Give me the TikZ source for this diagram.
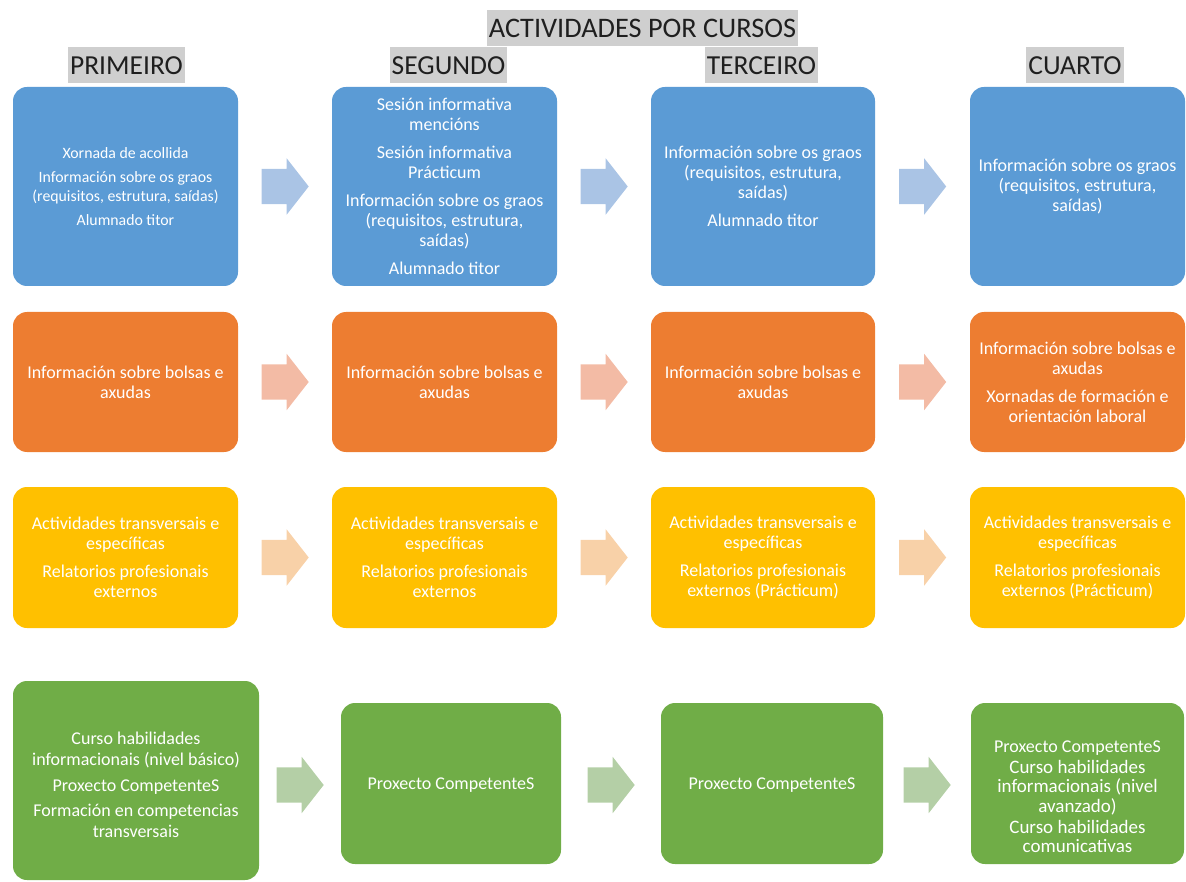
\documentclass[tikz,border=0pt]{standalone}
\usepackage{fontspec}
\setmainfont{Carlito}
\usetikzlibrary{shapes.arrows,calc}
\definecolor{boxblue}{HTML}{5B9BD5}
\definecolor{boxorange}{HTML}{ED7D31}
\definecolor{boxyellow}{HTML}{FFC000}
\definecolor{boxgreen}{HTML}{70AD47}
\definecolor{arrblue}{HTML}{AAC4E5}
\definecolor{arrorange}{HTML}{F3BBA5}
\definecolor{arryellow}{HTML}{F8D1A8}
\definecolor{arrgreen}{HTML}{B4CFA6}
\definecolor{headgray}{HTML}{CFCFCF}
\begin{document}
\begin{tikzpicture}[x=1pt, y=-1pt,
    box/.style={rounded corners=14pt, text=white, align=center, inner sep=0pt, font=\fontsize{18}{20}\selectfont},
    head/.style={fill=headgray, text=black!88, inner xsep=2pt, inner ysep=0pt, minimum height=36pt, font=\fontsize{27.5}{30}\selectfont},
    arr/.style={single arrow, anchor=tail, inner sep=0pt, inner ysep=17.5pt, minimum height=47pt, minimum width=56pt, single arrow head extend=10.5pt, single arrow tip angle=104}]
      \useasboundingbox (0,0) rectangle (1186,882);

      % cabeceiras
      \node[head, font=\fontsize{28.3}{30}\selectfont] (titulo) at (642.5,28) {ACTIVIDADES POR CURSOS};
      \node[head] (h1) at (126.5,65.5) {PRIMEIRO};
      \node[head] (h2) at (448.5,65.5) {SEGUNDO};
      \node[head] (h3) at (761.5,65.5) {TERCEIRO};
      \node[head] (h4) at (1075,65.5) {CUARTO};

      % informacion
      \node[box, fill=boxblue, minimum width=225pt, minimum height=199pt, font=\fontsize{15.8}{19}\selectfont] (b1) at (125.5,186.5)
        {Xornada de acollida\\[5pt]Información sobre os graos\\(requisitos, estrutura, saídas)\\[5pt]Alumnado titor};
      \node[box, fill=boxblue, minimum width=225pt, minimum height=199pt] (b2) at (444.5,186.5)
        {Sesión informativa\\mencións\\[8pt]Sesión informativa\\Prácticum\\[8pt]Información sobre os graos\\(requisitos, estrutura,\\saídas)\\[8pt]Alumnado titor};
      \node[box, fill=boxblue, minimum width=224pt, minimum height=199pt] (b3) at (763,186.5)
        {Información sobre os graos\\(requisitos, estrutura,\\saídas)\\[8pt]Alumnado titor};
      \node[box, fill=boxblue, minimum width=215pt, minimum height=199pt] (b4) at (1077.5,186.5)
        {Información sobre os graos\\(requisitos, estrutura,\\saídas)};

      % bolsas
      \node[box, fill=boxorange, minimum width=225pt, minimum height=140pt] (o1) at (125.5,382)
        {Información sobre bolsas e\\axudas};
      \node[box, fill=boxorange, minimum width=225pt, minimum height=140pt] (o2) at (444.5,382)
        {Información sobre bolsas e\\axudas};
      \node[box, fill=boxorange, minimum width=224pt, minimum height=140pt] (o3) at (763,382)
        {Información sobre bolsas e\\axudas};
      \node[box, fill=boxorange, minimum width=215pt, minimum height=140pt] (o4) at (1077.5,382)
        {Información sobre bolsas e\\axudas\\[8pt]Xornadas de formación e\\orientación laboral};

      % actividades
      \node[box, fill=boxyellow, minimum width=225pt, minimum height=141pt] (y1) at (125.5,557.5)
        {Actividades transversais e\\específicas\\[8pt]Relatorios profesionais\\externos};
      \node[box, fill=boxyellow, minimum width=225pt, minimum height=141pt] (y2) at (444.5,557.5)
        {Actividades transversais e\\específicas\\[8pt]Relatorios profesionais\\externos};
      \node[box, fill=boxyellow, minimum width=224pt, minimum height=141pt] (y3) at (763,557.5)
        {Actividades transversais e\\específicas\\[8pt]Relatorios profesionais\\externos (Prácticum)};
      \node[box, fill=boxyellow, minimum width=215pt, minimum height=141pt] (y4) at (1077.5,557.5)
        {Actividades transversais e\\específicas\\[8pt]Relatorios profesionais\\externos (Prácticum)};

      % competencias
      \node[box, fill=boxgreen, minimum width=246pt, minimum height=199pt, font=\fontsize{18}{21}\selectfont] (g1) at (136,780.5)
        {\rule{0pt}{21.6pt}Curso habilidades\\informacionais (nivel básico)\\[4.5pt]Proxecto CompetenteS\\[4.5pt]Formación en competencias\\transversais};
      \node[box, fill=boxgreen, minimum width=220pt, minimum height=161pt] (g2) at (451,783.5)
        {\rule{0pt}{15pt}Proxecto CompetenteS};
      \node[box, fill=boxgreen, minimum width=222pt, minimum height=161pt] (g3) at (772,783.5)
        {\rule{0pt}{15pt}Proxecto CompetenteS};
      \node[box, fill=boxgreen, minimum width=213pt, minimum height=161pt, font=\fontsize{18}{19.5}\selectfont] (g4) at (1077.5,783.5)
        {\rule{0pt}{38pt}Proxecto CompetenteS\\[1.5pt]{\fontsize{19}{19.5}\selectfont Curso habilidades}\\{\fontsize{19}{19.5}\selectfont informacionais (nivel}\\{\fontsize{19}{19.5}\selectfont avanzado)}\\[1.5pt]{\fontsize{19}{19.5}\selectfont Curso habilidades}\\{\fontsize{19}{19.5}\selectfont comunicativas}};

      % frechas
      \foreach \i/\j in {1/2,2/3,3/4} {
        \node[arr, fill=arrblue] (ab\i) at ($(b\i.east)!0.5!(b\j.west)+(-23.5,0)$) {};
        \node[arr, fill=arrorange] (ao\i) at ($(o\i.east)!0.5!(o\j.west)+(-23.5,0)$) {};
        \node[arr, fill=arryellow] (ay\i) at ($(y\i.east)!0.5!(y\j.west)+(-23.5,0)$) {};
        \node[arr, fill=arrgreen] (ag\i) at ($(g\i.east |- g\j.west)!0.5!(g\j.west)+(-23.5,1.5)$) {};
      }
    \end{tikzpicture}
\end{document}
